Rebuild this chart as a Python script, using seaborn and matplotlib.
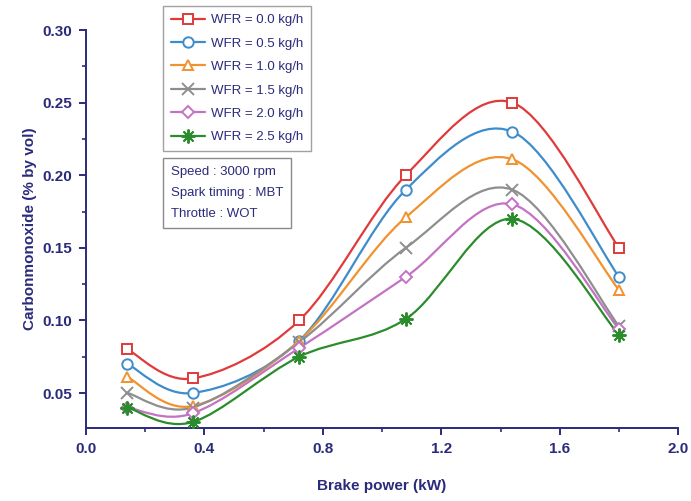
import numpy as np
import pandas as pd
import matplotlib
matplotlib.use('Agg')
import matplotlib.pyplot as plt
import seaborn as sns
from matplotlib.path import Path
from matplotlib.patches import PathPatch
from matplotlib.lines import Line2D
from matplotlib.ticker import MultipleLocator

sns.set_style('ticks')
plt.rcParams['font.family'] = ['Liberation Sans', 'DejaVu Sans']

# ------------------------------------------------------------
# data
# ------------------------------------------------------------
brake_power = [0.14, 0.36, 0.72, 1.08, 1.44, 1.80]
wfr_labels = ['WFR = 0.0 kg/h', 'WFR = 0.5 kg/h', 'WFR = 1.0 kg/h',
              'WFR = 1.5 kg/h', 'WFR = 2.0 kg/h', 'WFR = 2.5 kg/h']
co_00 = [0.080, 0.060, 0.100, 0.200, 0.250, 0.150]
co_05 = [0.070, 0.050, 0.086, 0.190, 0.230, 0.130]
co_10 = [0.061, 0.041, 0.086, 0.171, 0.211, 0.121]
co_15 = [0.050, 0.040, 0.085, 0.150, 0.190, 0.096]
co_20 = [0.040, 0.036, 0.081, 0.130, 0.180, 0.094]
co_25 = [0.040, 0.030, 0.075, 0.101, 0.170, 0.090]
series = [co_00, co_05, co_10, co_15, co_20, co_25]

colors = ['#e03a3a', '#3d8ccc', '#f2922f', '#8e8e8e', '#c472c4', '#2b8c2b']
markers = ['s', 'o', '^', 'x', 'D', (8, 2, 0)]
msizes = [7, 7.5, 7.5, 8, 6, 10]

navy = '#2b2b7c'


def smooth_path(xs, ys, tension=1 / 6):
    # Catmull-Rom style cubic bezier through the points
    pts = np.column_stack([xs, ys])
    verts = [pts[0]]
    codes = [Path.MOVETO]
    n = len(pts)
    for i in range(n - 1):
        p0 = pts[max(i - 1, 0)]
        p1 = pts[i]
        p2 = pts[i + 1]
        p3 = pts[min(i + 2, n - 1)]
        c1 = p1 + (p2 - p0) * tension
        c2 = p2 - (p3 - p1) * tension
        verts += [c1, c2, p2]
        codes += [Path.CURVE4] * 3
    return Path(verts, codes)


# ------------------------------------------------------------
# figure
# ------------------------------------------------------------
fig = plt.figure(figsize=(6.91, 5.01), dpi=100)
ax = fig.add_axes([0.1245, 0.146, 0.857, 0.794])

handles = []
for vals, lab, c, m, ms in zip(series, wfr_labels, colors, markers, msizes):
    ax.add_patch(PathPatch(smooth_path(brake_power, vals), facecolor='none',
                           edgecolor=c, lw=1.6, zorder=2))
    df = pd.DataFrame({'x': brake_power, 'y': vals})
    filled = m in ('x',) or isinstance(m, tuple)
    sns.lineplot(data=df, x='x', y='y', ax=ax, color=c, marker=m,
                 linestyle='', markersize=ms, markeredgecolor=c,
                 markerfacecolor=c if filled else 'white',
                 markeredgewidth=1.4, zorder=3)
    handles.append(Line2D([0], [0], color=c, lw=1.6, marker=m, markersize=ms,
                          markeredgecolor=c, markeredgewidth=1.4,
                          markerfacecolor=c if filled else 'white', label=lab))

ax.set_xlim(0, 2.0)
ax.set_ylim(0.026, 0.30)
ax.xaxis.set_minor_locator(MultipleLocator(0.2))
ax.yaxis.set_minor_locator(MultipleLocator(0.025))
ax.set_xticks([0.0, 0.4, 0.8, 1.2, 1.6, 2.0])
ax.set_xticklabels(['0.0', '0.4', '0.8', '1.2', '1.6', '2.0'])
ax.set_yticks([0.05, 0.10, 0.15, 0.20, 0.25, 0.30])
ax.set_yticklabels(['0.05', '0.10', '0.15', '0.20', '0.25', '0.30'])

for s in ['top', 'right']:
    ax.spines[s].set_visible(False)
for s in ['left', 'bottom']:
    ax.spines[s].set_color(navy)
    ax.spines[s].set_linewidth(1.4)

ax.tick_params(which='major', direction='out', length=5, width=1.4,
               color=navy, labelcolor=navy, labelsize=11, pad=5)
ax.tick_params(which='minor', direction='out', length=3, width=1.2, color=navy)
for t in ax.get_xticklabels() + ax.get_yticklabels():
    t.set_fontweight('bold')

ax.set_xlabel('Brake power (kW)', fontsize=11, fontweight='bold', color=navy, labelpad=17)
ax.set_ylabel('Carbonmonoxide (% by vol)', fontsize=11, fontweight='bold', color=navy, labelpad=4)

leg = fig.legend(handles=handles, loc='upper left', bbox_to_anchor=(0.236, 0.988),
                 frameon=True, fancybox=False, fontsize=9.5, labelspacing=0.85,
                 handlelength=2.6, handletextpad=0.4, borderpad=0.6,
                 borderaxespad=0)
leg.get_frame().set_edgecolor('#8a8a8a')
leg.get_frame().set_linewidth(1.0)
for t in leg.get_texts():
    t.set_color(navy)

fig.text(0.247, 0.668, 'Speed : 3000 rpm\nSpark timing : MBT\nThrottle : WOT',
         fontsize=9.5, color=navy, va='top', ha='left', linespacing=2.0,
         bbox=dict(boxstyle='square,pad=0.6', facecolor='white',
                   edgecolor='#8a8a8a', linewidth=1.0))

fig.savefig('out.png', dpi=100)
